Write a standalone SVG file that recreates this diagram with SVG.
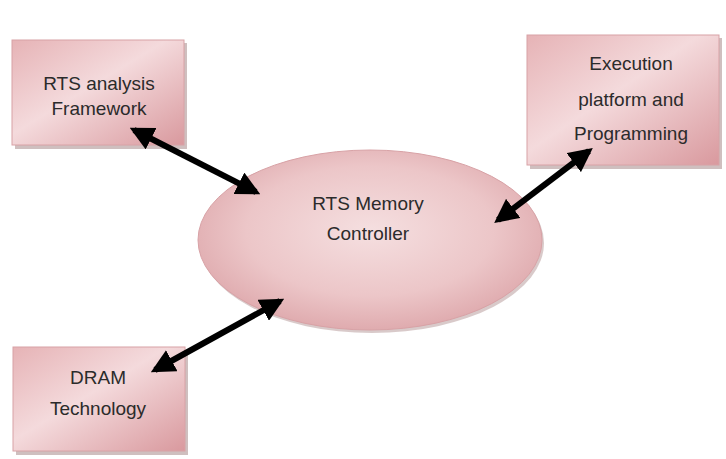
<svg xmlns="http://www.w3.org/2000/svg" width="726" height="459" viewBox="0 0 726 459">
<defs>
<linearGradient id="boxg" x1="0" y1="0" x2="1" y2="1">
<stop offset="0" stop-color="#e6b3b6"/>
<stop offset="0.45" stop-color="#f4dadc"/>
<stop offset="1" stop-color="#d9999e"/>
</linearGradient>
<radialGradient id="ellg" cx="0.5" cy="0.45" r="0.6">
<stop offset="0" stop-color="#f5dfe0"/>
<stop offset="0.6" stop-color="#ecc6c8"/>
<stop offset="1" stop-color="#dca4a8"/>
</radialGradient>
<marker id="ah" viewBox="0 0 10 10" refX="8" refY="5" markerWidth="4" markerHeight="4" orient="auto-start-reverse" markerUnits="strokeWidth">
<path d="M0,0 L10,5 L0,10 Z" fill="#000"/>
</marker>
</defs>
<style>
.box{fill:url(#boxg);stroke:#d8a2a6;stroke-width:1}
.shadow{fill:#a88a8b;opacity:0.55}
.lbl{font-family:"Liberation Sans",Arial,sans-serif;font-size:19px;fill:#2b2b2b;text-anchor:middle}
.conn{stroke:#000;stroke-width:6;fill:none;marker-start:url(#ah);marker-end:url(#ah)}
</style>
<g id="node-rts-analysis">
<rect class="shadow" x="15" y="43" width="172" height="106"/>
<rect class="box" x="12" y="40" width="172" height="105"/>
<text class="lbl" x="99" y="90">RTS analysis</text>
<text class="lbl" x="99" y="115">Framework</text>
</g>
<g id="node-execution">
<rect class="shadow" x="530" y="38" width="192" height="131"/>
<rect class="box" x="527" y="35" width="192" height="130"/>
<text class="lbl" x="631" y="70">Execution</text>
<text class="lbl" x="631" y="106">platform and</text>
<text class="lbl" x="631" y="140">Programming</text>
</g>
<g id="node-dram">
<rect class="shadow" x="16" y="350" width="172" height="105"/>
<rect class="box" x="13" y="347" width="172" height="104"/>
<text class="lbl" x="98" y="384">DRAM</text>
<text class="lbl" x="98" y="415">Technology</text>
</g>
<g id="node-controller">
<ellipse cx="372" cy="243" rx="172" ry="90" fill="#b39596" opacity="0.5"/>
<ellipse cx="370" cy="240" rx="172" ry="90" fill="url(#ellg)" stroke="#d8a2a6" stroke-width="1"/>
<text class="lbl" x="368" y="210">RTS Memory</text>
<text class="lbl" x="368" y="240">Controller</text>
</g>
<g id="connectors">
<line class="conn" x1="134" y1="130" x2="256" y2="192"/>
<line class="conn" x1="498" y1="220" x2="589" y2="151"/>
<line class="conn" x1="155" y1="370" x2="280" y2="301"/>
</g>
</svg>
